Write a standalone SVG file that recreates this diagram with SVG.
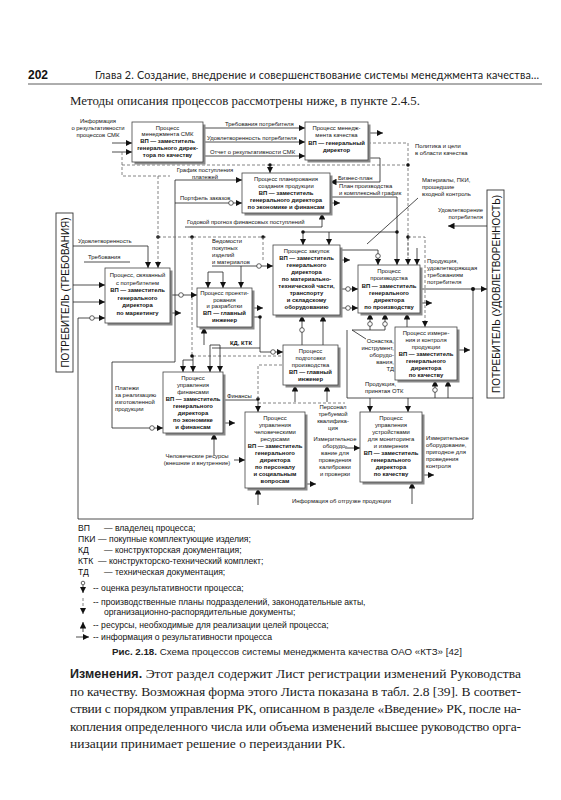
<svg xmlns="http://www.w3.org/2000/svg" width="561" height="800" viewBox="0 0 561 800">
<defs>
<marker id="ah" viewBox="0 0 10 10" refX="10" refY="5" markerWidth="6.5" markerHeight="6.5" markerUnits="userSpaceOnUse" orient="auto"><path d="M0,0L10,5L0,10z" fill="#111"/></marker>
</defs>
<style>
.s{fill:none;stroke:#222;stroke-width:0.8}
.d{fill:none;stroke:#666;stroke-width:0.8;stroke-dasharray:3 2}
.a{marker-end:url(#ah)}
.c{fill:#fff;stroke:#222;stroke-width:0.7}
.dot{fill:#111}
.box{fill:#fff;stroke:#444;stroke-width:0.8}
.sh{fill:#8a8a8a}
.bt{font-family:"Liberation Sans",Arial,sans-serif;font-size:5.9px;fill:#111;text-anchor:middle}
.b{font-weight:bold}
.l{font-family:"Liberation Sans",Arial,sans-serif;font-size:5.9px;fill:#111}
.m{text-anchor:middle}
.e{text-anchor:end}
.lg{font-family:"Liberation Sans",Arial,sans-serif;font-size:8.6px;fill:#111}
.body{font-family:"Liberation Serif","Times New Roman",serif;font-size:13.5px;fill:#222}
.cust{fill:#fff;stroke:#333;stroke-width:0.9}
.ct{font-family:"Liberation Sans",Arial,sans-serif;font-size:10px;fill:#111;text-anchor:middle}
</style>
<rect width="561" height="800" fill="#fff"/>

<!-- header -->
<text x="28" y="79" font-family="Liberation Sans, Arial, sans-serif" font-size="12" font-weight="bold" fill="#111">202</text>
<text x="95" y="79" font-family="Lato, Liberation Sans, sans-serif" font-size="10.8" fill="#222" textLength="444" lengthAdjust="spacing">Глава 2. Создание, внедрение и совершенствование системы менеджмента качества...</text>
<line x1="28" y1="84" x2="542" y2="84" stroke="#333" stroke-width="0.8"/>
<text x="70" y="105" class="body" font-size="13" textLength="350" lengthAdjust="spacingAndGlyphs">Методы описания процессов рассмотрены ниже, в пункте 2.4.5.</text>

<!-- customers -->
<g id="cust-left">
<rect class="cust" x="56" y="213" width="17" height="159"/>
<text class="ct" transform="translate(68.5,292.5) rotate(-90)" textLength="150" lengthAdjust="spacingAndGlyphs">ПОТРЕБИТЕЛЬ (ТРЕБОВАНИЯ)</text>
</g>
<g id="cust-right">
<rect class="cust" x="487" y="190" width="17" height="208"/>
<text class="ct" transform="translate(499.5,294) rotate(-90)" textLength="198" lengthAdjust="spacingAndGlyphs">ПОТРЕБИТЕЛЬ (УДОВЛЕТВОРЕННОСТЬ)</text>
</g>

<!-- connectors -->
<g id="connectors">
<path class="s" d="M78,318 V519 H473 V289"/>
<path class="s a" d="M112,143 H132"/>
<path class="s a" d="M112,152 H132"/>
<path class="d" d="M122,152 V176 H170"/>
<path class="s a" d="M203,128 H305"/>
<path class="s a" d="M203,142 H305"/>
<path class="s a" d="M203,156 H305"/>
<path class="s a" d="M368,133 H383"/>
<path class="d" d="M368,143 H408 V258"/>
<path class="d" d="M122,165 H408"/>
<circle class="dot" cx="408" cy="165" r="1.8"/>
<circle class="dot" cx="270" cy="165" r="1.8"/>
<path class="s a" d="M270,165 V173"/>
<path class="s a" d="M368,158 H380 V182 H330"/>
<path class="s a" d="M175,362 V180 H242"/>
<path class="s a" d="M175,203 H242"/>
<circle class="c" cx="231" cy="203" r="2.3"/>
<path class="s a" d="M185,227 H322 V213"/>
<path class="s a" d="M330,203 H340"/>
<path class="s a" d="M330,197 H397 V265"/>
<path class="s" d="M303,232 H397"/>
<circle class="dot" cx="303" cy="232" r="1.8"/>
<circle class="dot" cx="397" cy="232" r="1.8"/>
<path class="s a" d="M303,232 V245"/>
<path class="s a" d="M329,232 V245"/>
<path class="d" d="M158,237 H268"/>
<circle class="dot" cx="158" cy="237" r="1.8"/>
<circle class="dot" cx="192" cy="237" r="1.8"/>
<circle class="dot" cx="263" cy="237" r="1.8"/>
<path class="d" d="M263,237 V260"/>
<path class="d" d="M192,237 V356 H282"/>
<circle class="dot" cx="192" cy="356" r="1.8"/>
<path class="s" d="M418,198 L367,244"/>
<path class="s a" d="M340,250 H378 V265"/>
<circle class="c" cx="378" cy="256" r="2.3"/>
<path class="d a" d="M408,237 V265"/>
<circle class="dot" cx="408" cy="237" r="1.8"/>
<path class="d a" d="M408,237 H425 V327"/>
<path class="s a" d="M417,248 V265"/>
<path class="s a" d="M487,226 H448"/>
<path class="s a" d="M420,289 H487"/>
<circle class="dot" cx="473" cy="289" r="2"/>
<path class="s a" d="M420,303 H432"/>
<path class="s a" d="M340,289 H358"/>
<circle class="c" cx="348" cy="289" r="2.3"/>
<path class="s a" d="M340,308 H358"/>
<circle class="c" cx="348" cy="308" r="2.3"/>
<path class="s a" d="M340,260 H350"/>
<path class="s a" d="M73,246 H148 V268"/>
<path class="s" d="M84,262 H130"/>
<path class="d a" d="M158,176 V268"/>
<path class="s a" d="M73,285 H105"/>
<path class="s a" d="M73,302 H105"/>
<path class="s a" d="M78,318 H105"/>
<circle class="c" cx="92" cy="318" r="2.3"/>
<path class="s a" d="M170,313 H181"/>
<path class="s a" d="M170,295 H197"/>
<circle class="c" cx="181" cy="295" r="2.3"/>
<path class="s" d="M208,272 H223"/>
<path class="s a" d="M208,272 V288"/>
<path class="s a" d="M223,272 V288"/>
<path class="s a" d="M212,266 H273"/>
<circle class="c" cx="259" cy="266" r="2.3"/>
<path class="s a" d="M241,266 V288"/>
<path class="s a" d="M252,308 H263"/>
<path class="s a" d="M252,317 H260 V352 H283"/>
<circle class="dot" cx="260" cy="317" r="1.8"/>
<circle class="c" cx="273" cy="352" r="2.3"/>
<path class="s" d="M212,348 H260"/>
<path class="s a" d="M204,345 V327"/>
<path class="s a" d="M302,345 V315"/>
<circle class="c" cx="302" cy="330" r="2.3"/>
<path class="s a" d="M323,345 V315"/>
<path class="s" d="M352,330 H385"/>
<path class="s" d="M352,330 L366,339"/>
<path class="s a" d="M370,330 V313"/>
<circle class="c" cx="370" cy="324" r="2.3"/>
<path class="s a" d="M385,330 V313"/>
<circle class="c" cx="385" cy="324" r="2.3"/>
<path class="s a" d="M407,327 V313"/>
<path class="s a" d="M457,350 H470"/>
<path class="s" d="M347,330 V398 H473"/>
<path class="s a" d="M435,398 V380"/>
<circle class="c" cx="435" cy="390" r="2.3"/>
<path class="s a" d="M448,398 V380"/>
<path class="s a" d="M295,402 V385"/>
<path class="s a" d="M327,402 V385"/>
<path class="d" d="M258,403 H345"/>
<path class="s a" d="M370,398 V412"/>
<path class="s a" d="M408,398 V412"/>
<path class="s a" d="M183,360 V372"/>
<path class="s a" d="M193,356 V372"/>
<path class="s a" d="M210,345 V372"/>
<path class="s a" d="M220,345 V372"/>
<path class="s" d="M183,360 H193"/>
<path class="s" d="M210,345 H220"/>
<path class="s a" d="M175,362 H112 V428 H163"/>
<circle class="c" cx="152" cy="428" r="2.3"/>
<path class="s a" d="M223,423 H235"/>
<path class="s" d="M223,400 H258"/>
<circle class="dot" cx="258" cy="399" r="1.8"/>
<path class="d" d="M258,399 V365 H282"/>
<path class="s a" d="M258,400 V412"/>
<path class="s a" d="M214,455 V433"/>
<path class="s a" d="M234,460 H245"/>
<path class="s a" d="M258,505 V488"/>
<path class="s a" d="M305,484 H316"/>
<path class="s a" d="M345,448 H360"/>
<path class="s a" d="M412,504 V482"/>
<path class="s a" d="M422,475 H434"/>
</g>

<!-- labels -->
<g id="labels">
<text class="l m" x="98" y="123">Информация</text>
<text class="l m" x="98" y="130">о результативности</text>
<text class="l m" x="98" y="137">процессов СМК</text>
<text class="l" x="225" y="126">Требования потребителя</text>
<text class="l" x="207" y="140">Удовлетворенность потребителя</text>
<text class="l" x="210" y="154">Отчет о результативности СМК</text>
<text class="l" x="415" y="148">Политика и цели</text>
<text class="l" x="415" y="155">в области качества</text>
<text class="l" x="338" y="180">Бизнес-план</text>
<text class="l" x="339" y="188">План производства</text>
<text class="l" x="339" y="195">и комплексный график</text>
<text class="l m" x="205" y="172">График поступления</text>
<text class="l m" x="205" y="179">платежей</text>
<text class="l" x="180" y="200">Портфель заказов</text>
<text class="l" x="187" y="224">Годовой прогноз финансовых поступлений</text>
<text class="l" x="422" y="182">Материалы, ПКИ,</text>
<text class="l" x="422" y="189">прошедшие</text>
<text class="l" x="422" y="196">входной контроль</text>
<text class="l e" x="483" y="212">Удовлетворение</text>
<text class="l e" x="483" y="219">потребителя</text>
<text class="l" x="78" y="243">Удовлетворенность</text>
<text class="l" x="88" y="259">Требования</text>
<text class="l" x="212" y="243">Ведомости</text>
<text class="l" x="212" y="250">покупных</text>
<text class="l" x="212" y="257">изделий</text>
<text class="l" x="212" y="264">и материалов</text>
<text class="l" x="427" y="263">Продукция,</text>
<text class="l" x="427" y="270">удовлетворяющая</text>
<text class="l" x="427" y="277">требованиям</text>
<text class="l" x="427" y="284">потребителя</text>
<text class="l b" x="230" y="345">КД, КТК</text>
<text class="l e" x="394" y="343">Оснастка,</text>
<text class="l e" x="394" y="350">инструмент,</text>
<text class="l e" x="394" y="357">оборудо-</text>
<text class="l e" x="394" y="364">вания,</text>
<text class="l e" x="394" y="371">ТД</text>
<text class="l" x="365" y="386">Продукция,</text>
<text class="l" x="365" y="393">принятая ОТК</text>
<text class="l" x="115" y="390">Платежи</text>
<text class="l" x="115" y="397">за реализацию</text>
<text class="l" x="115" y="404">изготовленной</text>
<text class="l" x="115" y="411">продукции</text>
<text class="l" x="227" y="398">Финансы</text>
<text class="l m" x="333" y="409">Персонал</text>
<text class="l m" x="333" y="416">требуемой</text>
<text class="l m" x="333" y="423">квалифика-</text>
<text class="l m" x="333" y="430">ция</text>
<text class="l m" x="335" y="441">Измерительное</text>
<text class="l m" x="335" y="448">оборудо-</text>
<text class="l m" x="335" y="455">вание для</text>
<text class="l m" x="335" y="462">проведения</text>
<text class="l m" x="335" y="469">калибровки</text>
<text class="l m" x="335" y="476">и проверки</text>
<text class="l" x="426" y="440">Измерительное</text>
<text class="l" x="426" y="447">оборудование,</text>
<text class="l" x="426" y="454">пригодное для</text>
<text class="l" x="426" y="461">проведения</text>
<text class="l" x="426" y="468">контроля</text>
<text class="l m" x="197" y="458">Человеческие ресурсы</text>
<text class="l m" x="197" y="465">(внешние и внутренние)</text>
<text class="l" x="292" y="503">Информация об отгрузке продукции</text>
</g>

<!-- process boxes -->
<g id="p1">
<rect class="sh" x="134.5" y="124.5" width="71" height="40"/><rect class="box" x="132" y="122" width="71" height="40"/>
<text class="bt"><tspan x="167.5" y="129.5">Процесс</tspan><tspan x="167.5" y="136">менеджмента СМК</tspan><tspan class="b" x="167.5" y="143">ВП — заместитель</tspan><tspan class="b" x="167.5" y="150">генерального дирек-</tspan><tspan class="b" x="167.5" y="157">тора по качеству</tspan></text>
</g>
<g id="p2">
<rect class="sh" x="307.5" y="124.5" width="63" height="38"/><rect class="box" x="305" y="122" width="63" height="38"/>
<text class="bt"><tspan x="336.5" y="130">Процесс менедж-</tspan><tspan x="336.5" y="137">мента качества</tspan><tspan class="b" x="336.5" y="145">ВП — генеральный</tspan><tspan class="b" x="336.5" y="152">директор</tspan></text>
</g>
<g id="p3">
<rect class="sh" x="244.5" y="175.5" width="88" height="40"/><rect class="box" x="242" y="173" width="88" height="40"/>
<text class="bt"><tspan x="286" y="181">Процесс планирования</tspan><tspan x="286" y="188">создания продукции</tspan><tspan class="b" x="286" y="195">ВП — заместитель</tspan><tspan class="b" x="286" y="202">генерального директора</tspan><tspan class="b" x="286" y="209">по экономике и финансам</tspan></text>
</g>
<g id="p4">
<rect class="sh" x="107.5" y="270.5" width="65" height="55"/><rect class="box" x="105" y="268" width="65" height="55"/>
<text class="bt"><tspan x="137.5" y="277">Процесс, связанный</tspan><tspan x="137.5" y="284.5">с потребителем</tspan><tspan class="b" x="137.5" y="292">ВП — заместитель</tspan><tspan class="b" x="137.5" y="299.5">генерального</tspan><tspan class="b" x="137.5" y="307">директора</tspan><tspan class="b" x="137.5" y="314.5">по маркетингу</tspan></text>
</g>
<g id="p5">
<rect class="sh" x="199.5" y="290.5" width="55" height="39"/><rect class="box" x="197" y="288" width="55" height="39"/>
<text class="bt"><tspan x="224.5" y="295">Процесс проекти-</tspan><tspan x="224.5" y="301.5">рования</tspan><tspan x="224.5" y="308">и разработки</tspan><tspan class="b" x="224.5" y="315">ВП — главный</tspan><tspan class="b" x="224.5" y="322">инженер</tspan></text>
</g>
<g id="p6">
<rect class="sh" x="275.5" y="247.5" width="67" height="70"/><rect class="box" x="273" y="245" width="67" height="70"/>
<text class="bt"><tspan x="306.5" y="252.5">Процесс закупок</tspan><tspan class="b" x="306.5" y="259.5">ВП — заместитель</tspan><tspan class="b" x="306.5" y="266.5">генерального</tspan><tspan class="b" x="306.5" y="273.5">директора</tspan><tspan class="b" x="306.5" y="280.5">по материально-</tspan><tspan class="b" x="306.5" y="287.5">технической части,</tspan><tspan class="b" x="306.5" y="294.5">транспорту</tspan><tspan class="b" x="306.5" y="301.5">и складскому</tspan><tspan class="b" x="306.5" y="308.5">оборудованию</tspan></text>
</g>
<g id="p7">
<rect class="sh" x="360.5" y="267.5" width="62" height="48"/><rect class="box" x="358" y="265" width="62" height="48"/>
<text class="bt"><tspan x="389" y="273">Процесс</tspan><tspan x="389" y="280">производства</tspan><tspan class="b" x="389" y="288">ВП — заместитель</tspan><tspan class="b" x="389" y="295">генерального</tspan><tspan class="b" x="389" y="302">директора</tspan><tspan class="b" x="389" y="309">по производству</tspan></text>
</g>
<g id="p8">
<rect class="sh" x="397.5" y="329.5" width="62" height="53"/><rect class="box" x="395" y="327" width="62" height="53"/>
<text class="bt"><tspan x="426" y="335">Процесс измере-</tspan><tspan x="426" y="342">ния и контроля</tspan><tspan x="426" y="349">продукции</tspan><tspan class="b" x="426" y="356">ВП — заместитель</tspan><tspan class="b" x="426" y="363">генерального</tspan><tspan class="b" x="426" y="370">директора</tspan><tspan class="b" x="426" y="377">по качеству</tspan></text>
</g>
<g id="p9">
<rect class="sh" x="285.5" y="347.5" width="55" height="40"/><rect class="box" x="283" y="345" width="55" height="40"/>
<text class="bt"><tspan x="310.5" y="353">Процесс</tspan><tspan x="310.5" y="360">подготовки</tspan><tspan x="310.5" y="367">производства</tspan><tspan class="b" x="310.5" y="374">ВП — главный</tspan><tspan class="b" x="310.5" y="381">инженер</tspan></text>
</g>
<g id="p10">
<rect class="sh" x="165.5" y="374.5" width="60" height="61"/><rect class="box" x="163" y="372" width="60" height="61"/>
<text class="bt"><tspan x="193" y="380">Процесс</tspan><tspan x="193" y="387">управления</tspan><tspan x="193" y="394">финансами</tspan><tspan class="b" x="193" y="401">ВП — заместитель</tspan><tspan class="b" x="193" y="408">генерального</tspan><tspan class="b" x="193" y="415">директора</tspan><tspan class="b" x="193" y="422">по экономике</tspan><tspan class="b" x="193" y="429">и финансам</tspan></text>
</g>
<g id="p11">
<rect class="sh" x="247.5" y="414.5" width="60" height="76"/><rect class="box" x="245" y="412" width="60" height="76"/>
<text class="bt"><tspan x="275" y="420">Процесс</tspan><tspan x="275" y="427">управления</tspan><tspan x="275" y="434">человеческими</tspan><tspan x="275" y="441">ресурсами</tspan><tspan class="b" x="275" y="448">ВП — заместитель</tspan><tspan class="b" x="275" y="455">генерального</tspan><tspan class="b" x="275" y="462">директора</tspan><tspan class="b" x="275" y="469">по персоналу</tspan><tspan class="b" x="275" y="476">и социальным</tspan><tspan class="b" x="275" y="483">вопросам</tspan></text>
</g>
<g id="p12">
<rect class="sh" x="362.5" y="414.5" width="62" height="70"/><rect class="box" x="360" y="412" width="62" height="70"/>
<text class="bt"><tspan x="391" y="419.5">Процесс</tspan><tspan x="391" y="426.5">управления</tspan><tspan x="391" y="433.5">устройствами</tspan><tspan x="391" y="440.5">для мониторинга</tspan><tspan x="391" y="447.5">и измерения</tspan><tspan class="b" x="391" y="454.5">ВП — заместитель</tspan><tspan class="b" x="391" y="461.5">генерального</tspan><tspan class="b" x="391" y="468.5">директора</tspan><tspan class="b" x="391" y="475.5">по качеству</tspan></text>
</g>

<!-- legend -->
<g id="legend">
<text class="lg" x="78" y="531">ВП</text><text class="lg" x="104" y="531">— владелец процесса;</text>
<text class="lg" x="78" y="542">ПКИ</text><text class="lg" x="98" y="542">— покупные комплектующие изделия;</text>
<text class="lg" x="78" y="553">КД</text><text class="lg" x="104" y="553">— конструкторская документация;</text>
<text class="lg" x="78" y="564">КТК</text><text class="lg" x="98" y="564">— конструкторско-технический комплект;</text>
<text class="lg" x="78" y="575">ТД</text><text class="lg" x="104" y="575">— техническая документация;</text>
<circle class="c" cx="83" cy="583" r="1.8"/>
<path class="s a" d="M83,585 V593"/>
<text class="lg" x="93" y="591">-- оценка результативности процесса;</text>
<path class="d a" d="M83,598 V614"/>
<text class="lg" x="93" y="605">-- производственные планы подразделений, законодательные акты,</text>
<text class="lg" x="104" y="615">организационно-распорядительные документы;</text>
<path class="s a" d="M83,632 V622"/>
<text class="lg" x="93" y="628">-- ресурсы, необходимые для реализации целей процесса;</text>
<path class="s a" d="M76,637 H89"/>
<text class="lg" x="93" y="640">-- информация о результативности процесса</text>
<text x="112" y="655" font-family="Liberation Sans, Arial, sans-serif" font-size="9.5" fill="#222" textLength="350" lengthAdjust="spacingAndGlyphs"><tspan font-weight="bold">Рис. 2.18.</tspan> Схема процессов системы менеджмента качества ОАО «КТЗ» [42]</text>
</g>

<!-- body text -->
<g id="body">
<text class="body" x="70" y="678" textLength="451" lengthAdjust="spacing"><tspan font-family="Liberation Sans, Arial, sans-serif" font-weight="bold" font-size="12.5">Изменения.</tspan> Этот раздел содержит Лист регистрации изменений Руководства</text>
<text class="body" x="70" y="695.5" textLength="451" lengthAdjust="spacing">по качеству. Возможная форма этого Листа показана в табл. 2.8 [39]. В соответ-</text>
<text class="body" x="70" y="713" textLength="451" lengthAdjust="spacing">ствии с порядком управления РК, описанном в разделе «Введение» РК, после на-</text>
<text class="body" x="70" y="730.5" textLength="451" lengthAdjust="spacing">копления определенного числа или объема изменений высшее руководство орга-</text>
<text class="body" x="70" y="748">низации принимает решение о переиздании РК.</text>
</g>
</svg>
